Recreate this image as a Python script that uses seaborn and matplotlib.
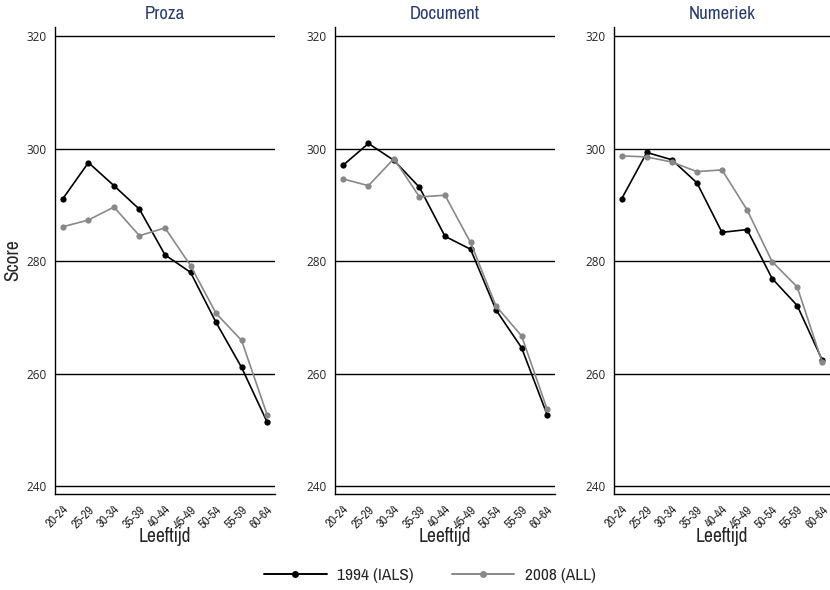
import matplotlib
matplotlib.use("Agg")
import matplotlib.pyplot as plt
from matplotlib import font_manager
from matplotlib.font_manager import FontProperties
from matplotlib.lines import Line2D
import seaborn as sns
import pandas as pd

# ---- data ----
age_groups = ["20-24", "25-29", "30-34", "35-39", "40-44", "45-49", "50-54", "55-59", "60-64"]
panels = ["Proza", "Document", "Numeriek"]
series_names = ["1994 (IALS)", "2008 (ALL)"]

proza_1994 = [291.1, 297.5, 293.4, 289.2, 281.1, 278.0, 269.1, 261.1, 251.4]
proza_2008 = [286.1, 287.3, 289.6, 284.5, 285.9, 279.2, 270.7, 265.9, 252.7]
document_1994 = [297.0, 300.9, 297.9, 293.1, 284.4, 282.1, 271.3, 264.6, 252.7]
document_2008 = [294.6, 293.4, 298.2, 291.4, 291.7, 283.3, 272.0, 266.7, 253.7]
numeriek_1994 = [291.1, 299.3, 298.0, 293.9, 285.1, 285.6, 276.9, 272.1, 262.4]
numeriek_2008 = [298.7, 298.5, 297.6, 295.9, 296.2, 289.1, 279.9, 275.4, 262.0]

y_ticks = [240, 260, 280, 300, 320]

values = {
    "Proza": (proza_1994, proza_2008),
    "Document": (document_1994, document_2008),
    "Numeriek": (numeriek_1994, numeriek_2008),
}

rows = []
for p in panels:
    for s, vals in zip(series_names, values[p]):
        for a, v in zip(age_groups, vals):
            rows.append({"panel": p, "series": s, "age": a, "score": v})
df = pd.DataFrame(rows)

# ---- style ----
sns.set_theme(style="white")
plt.rcParams["font.family"] = ["DejaVu Sans"]
plt.rcParams["axes.unicode_minus"] = False


def find_condensed():
    prefs = []
    for f in font_manager.fontManager.ttflist:
        nm = f.name.lower()
        fn = f.fname.lower()
        st = str(f.stretch).lower()
        if f.style != "normal":
            continue
        w = f.weight if isinstance(f.weight, int) else 400
        if w != 400:
            continue
        score = None
        if "narrow" in nm or "narrow" in fn:
            score = 0
        elif "condensed" in nm or "condensed" in fn or st in ("condensed", "semi-condensed"):
            if "semi" in nm or "semi" in fn:
                score = 2
            elif "extra" in nm or "extra" in fn or "ultra" in fn:
                score = 3
            else:
                score = 1
        if score is not None:
            if any(k in fn for k in ("bold", "light", "thin", "medium", "black", "italic")):
                continue
            prefs.append((score, f.fname))
    prefs.sort()
    return prefs[0][1] if prefs else None


cond_path = find_condensed()


def fp(size):
    if cond_path:
        return FontProperties(fname=cond_path, size=size)
    return FontProperties(family="DejaVu Sans", stretch="condensed", size=size)


tick_fp = FontProperties(family=["Open Sans", "DejaVu Sans"], size=8.5)

palette = {"1994 (IALS)": "#000000", "2008 (ALL)": "#888888"}
title_color = "#2b3d6b"

fig = plt.figure(figsize=(8.3, 5.9), dpi=100)
W, H = 830.0, 590.0
lefts = [55, 335, 614]
widths = [220, 220, 216]
top_px, bottom_px = 27, 494

for i, p in enumerate(panels):
    ax = fig.add_axes([lefts[i] / W, (H - bottom_px) / H, widths[i] / W, (bottom_px - top_px) / H])
    sub = df[df["panel"] == p]
    for h in y_ticks:
        ax.axhline(h, color="black", lw=1.0, zorder=1)
    sns.lineplot(data=sub, x="age", y="score", hue="series", palette=palette,
                 marker="o", markersize=4.5, markeredgewidth=0, lw=1.2,
                 sort=False, ax=ax, legend=False, zorder=3)
    ax.set_xlim(-0.31, 8.31)
    ax.set_ylim(238.6, 321.6)
    ax.set_yticks(y_ticks)
    ax.set_yticklabels([str(t) for t in y_ticks], fontproperties=tick_fp)
    ax.set_xticks(range(len(age_groups)))
    ax.set_xticklabels(age_groups, rotation=45, ha="right", rotation_mode="anchor",
                       fontproperties=fp(9))
    ax.tick_params(axis="both", direction="out", length=4, width=1, color="black", pad=2)
    ax.tick_params(axis="x", pad=3)
    for side in ["top", "right"]:
        ax.spines[side].set_visible(False)
    for side in ["left", "bottom"]:
        ax.spines[side].set_color("black")
        ax.spines[side].set_linewidth(1.0)
    ax.set_xlabel("Leeftijd", fontproperties=fp(14), labelpad=-2)
    if i == 0:
        ax.set_ylabel("Score", fontproperties=fp(14), labelpad=3)
    else:
        ax.set_ylabel("")
    ax.set_title(p, fontproperties=fp(13.5), color=title_color, pad=6)
    ax.grid(False)

handles = [Line2D([0], [0], color=palette[s], lw=1.4, marker="o", markersize=5, markeredgewidth=0)
           for s in series_names]
fig.legend(handles, series_names, loc="center", bbox_to_anchor=(430 / W, (H - 575) / H),
           ncol=2, frameon=False, prop=fp(12.5), handlelength=3.6, columnspacing=2.2,
           handletextpad=0.6)

fig.savefig("out.png", dpi=100)
